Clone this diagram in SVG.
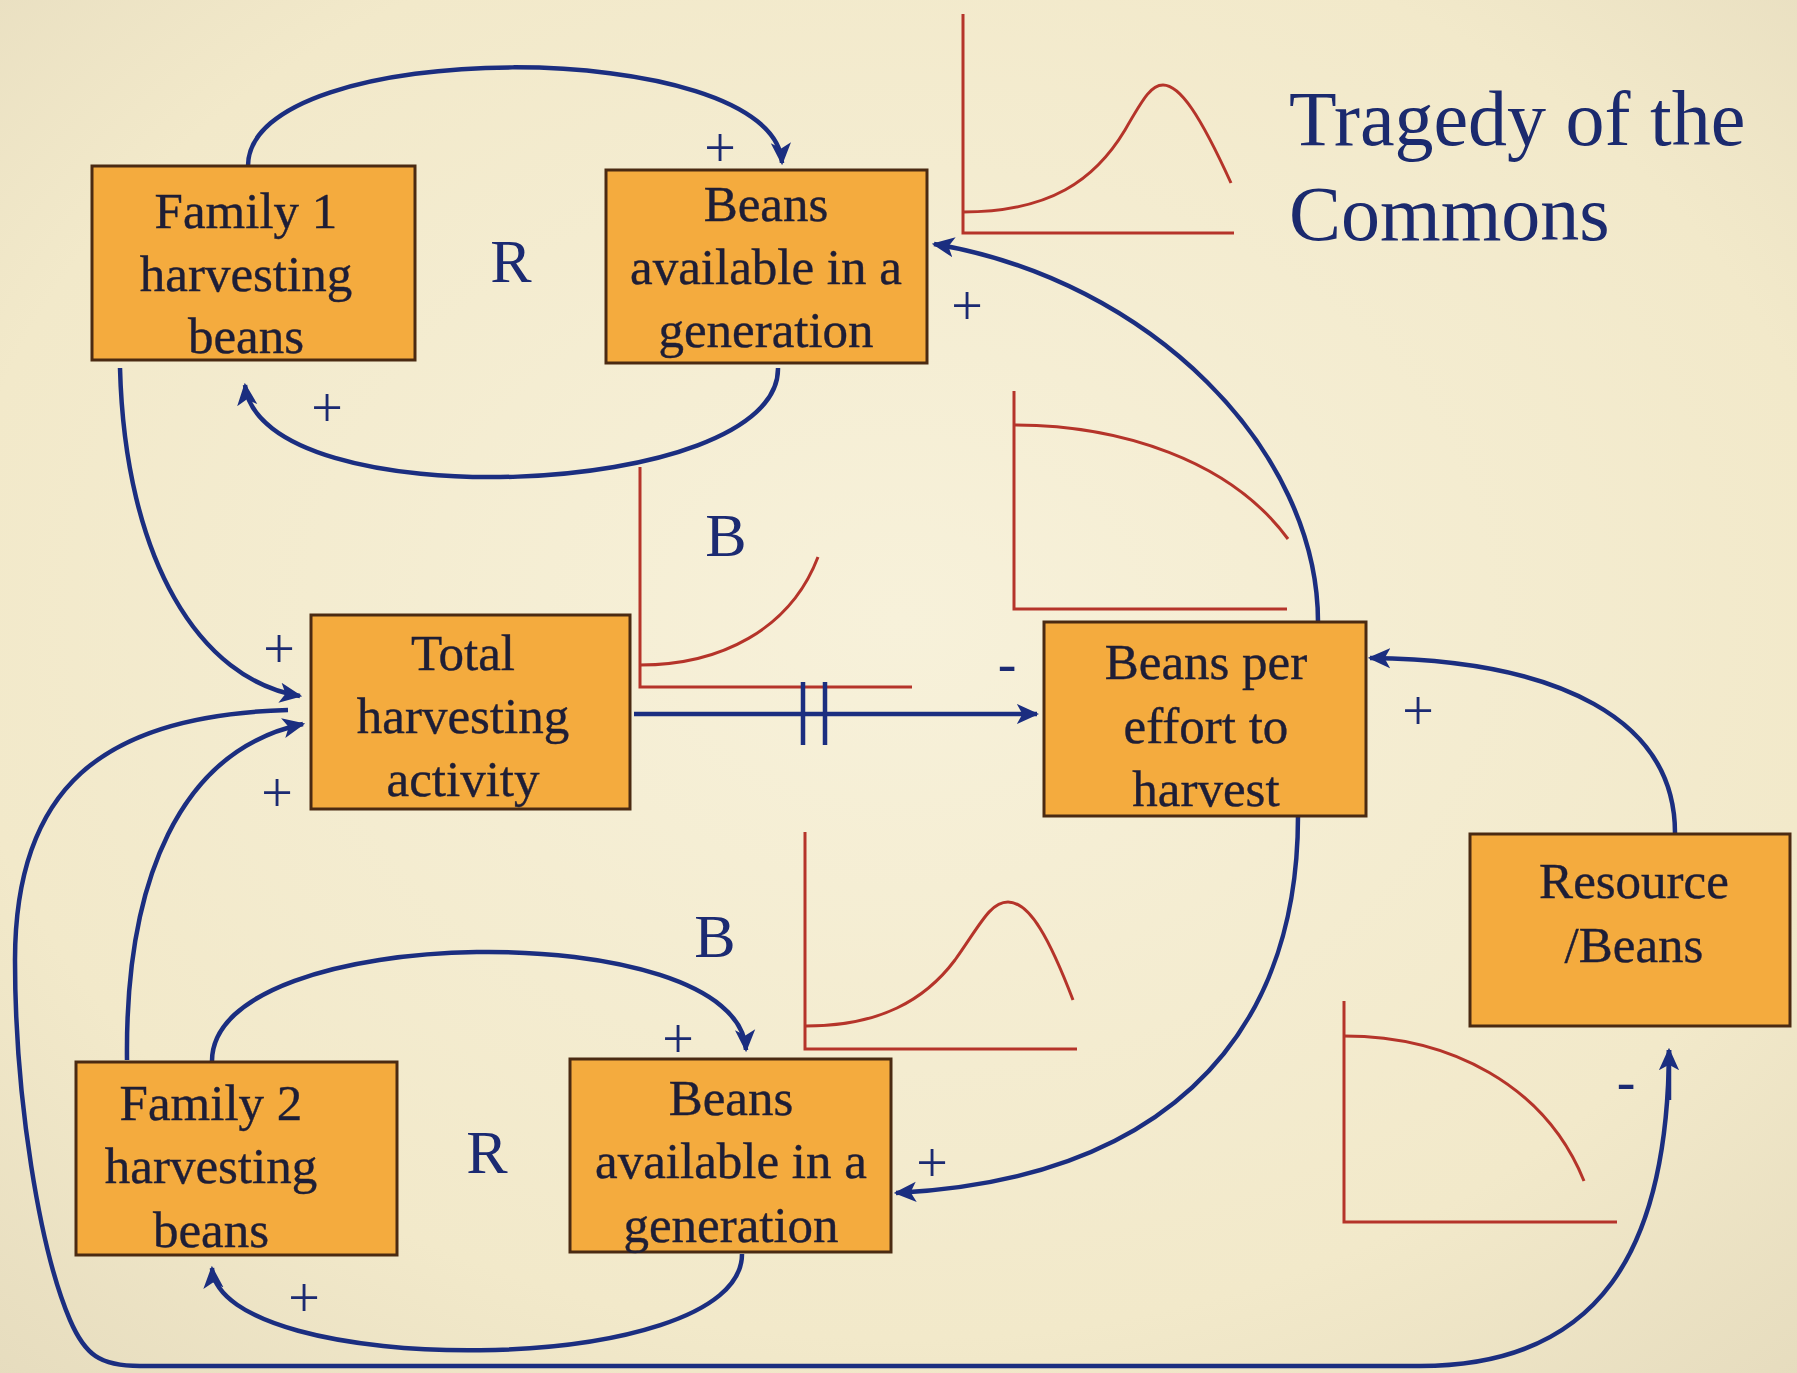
<svg xmlns="http://www.w3.org/2000/svg" width="1797" height="1373" viewBox="0 0 1797 1373">
<defs>
<radialGradient id="bg" cx="0.5" cy="0.45" r="0.75">
<stop offset="0" stop-color="#F7F1DA"/>
<stop offset="0.7" stop-color="#F2E9CA"/>
<stop offset="1" stop-color="#E6DCBE"/>
</radialGradient>
<marker id="arr" viewBox="0 0 10 10" refX="9" refY="5" markerWidth="5" markerHeight="5" markerUnits="strokeWidth" orient="auto">
<path d="M0,0.5 L10,5 L0,9.5 L2.5,5 Z" fill="#1B2E80"/>
</marker>
<style>
.box{fill:#F4AB3E;stroke:#4A2A12;stroke-width:3}
.bt{font-family:"Liberation Serif","Times New Roman",serif;font-size:51px;fill:#1E1E36;stroke:#1E1E36;stroke-width:0.4;text-anchor:middle}
.lab{font-family:"Liberation Serif","Times New Roman",serif;fill:#1B2A72;text-anchor:middle}
.big{font-size:62px}
.sg{font-size:56px}
.title{font-family:"Liberation Serif","Times New Roman",serif;font-size:78px;fill:#1B2A6E}
.c{fill:none;stroke:#1B2E80;stroke-width:4.5}
.ca{fill:none;stroke:#1B2E80;stroke-width:4.5;marker-end:url(#arr)}
.g{fill:none;stroke:#B5342A;stroke-width:3}
</style>
</defs>
<rect width="1797" height="1373" fill="url(#bg)"/>

<g id="graphs">
<path class="g" d="M963 14 L963 233 L1234 233"/>
<path class="g" d="M963 212 C1050 212 1095 180 1125 130 C1145 95 1152 85 1163 85 C1180 85 1200 115 1231 183"/>
<path class="g" d="M1014 391 L1014 609 L1287 609"/>
<path class="g" d="M1014 425 C1120 425 1230 460 1288 539"/>
<path class="g" d="M640 467 L640 687 L912 687"/>
<path class="g" d="M640 665 C720 665 790 630 818 557"/>
<path class="g" d="M805 832 L805 1049 L1077 1049"/>
<path class="g" d="M806 1026 C880 1026 925 1000 955 960 C980 925 990 902 1008 902 C1030 902 1050 940 1073 1000"/>
<path class="g" d="M1344 1001 L1344 1222 L1617 1222"/>
<path class="g" d="M1344 1036 C1450 1036 1545 1085 1584 1181"/>
</g>

<g id="connectors">
<path class="ca" d="M248 166 C248 35 775 35 782 163"/>
<path class="ca" d="M778 368 C780 500 260 520 245 385"/>
<path class="ca" d="M120 368 C125 560 200 680 300 696"/>
<path class="ca" d="M127 1060 C125 880 180 750 303 724"/>
<path class="c" d="M288 710 C100 715 15 790 15 960 C15 1100 40 1250 70 1320 C85 1355 100 1366 140 1366 L1420 1366 C1600 1366 1668 1250 1669 1050"/>
<path class="ca" d="M1669 1100 L1669 1050"/>
<path class="ca" d="M634 714 L1037 714"/>
<path class="c" d="M803 682 L803 745 M825 682 L825 745"/>
<path class="ca" d="M1318 622 C1318 450 1150 280 934 244"/>
<path class="ca" d="M1298 816 C1298 1050 1150 1180 896 1193"/>
<path class="ca" d="M1675 833 C1675 720 1560 660 1370 658"/>
<path class="ca" d="M212 1061 C212 920 740 915 746 1050"/>
<path class="ca" d="M742 1254 C742 1380 220 1380 212 1268"/>
</g>

<g id="family1">
<rect class="box" x="92" y="166" width="323" height="194"/>
<text class="bt" x="246" y="228">Family 1</text>
<text class="bt" x="246" y="291">harvesting</text>
<text class="bt" x="246" y="353">beans</text>
</g>
<g id="beans1">
<rect class="box" x="606" y="170" width="321" height="193"/>
<text class="bt" x="766" y="221">Beans</text>
<text class="bt" x="766" y="284">available in a</text>
<text class="bt" x="766" y="347">generation</text>
</g>
<g id="total">
<rect class="box" x="311" y="615" width="319" height="194"/>
<text class="bt" x="463" y="670">Total</text>
<text class="bt" x="463" y="733">harvesting</text>
<text class="bt" x="463" y="796">activity</text>
</g>
<g id="beansper">
<rect class="box" x="1044" y="622" width="322" height="194"/>
<text class="bt" x="1206" y="679">Beans per</text>
<text class="bt" x="1206" y="743">effort to</text>
<text class="bt" x="1206" y="806">harvest</text>
</g>
<g id="resource">
<rect class="box" x="1470" y="834" width="320" height="192"/>
<text class="bt" x="1634" y="898">Resource</text>
<text class="bt" x="1634" y="962">/Beans</text>
</g>
<g id="family2">
<rect class="box" x="76" y="1062" width="321" height="193"/>
<text class="bt" x="211" y="1120">Family 2</text>
<text class="bt" x="211" y="1183">harvesting</text>
<text class="bt" x="211" y="1247">beans</text>
</g>
<g id="beans2">
<rect class="box" x="570" y="1059" width="321" height="193"/>
<text class="bt" x="731" y="1115">Beans</text>
<text class="bt" x="731" y="1178">available in a</text>
<text class="bt" x="731" y="1242">generation</text>
</g>

<g id="labels">
<text class="lab big" x="511" y="282">R</text>
<text class="lab big" x="726" y="556">B</text>
<text class="lab big" x="715" y="957">B</text>
<text class="lab big" x="487" y="1173">R</text>
<text class="lab sg" x="720" y="167">+</text>
<text class="lab sg" x="327" y="427">+</text>
<text class="lab sg" x="967" y="325">+</text>
<text class="lab sg" x="279" y="668">+</text>
<text class="lab sg" x="277" y="812">+</text>
<text class="lab sg" x="1007" y="682">-</text>
<text class="lab sg" x="1418" y="730">+</text>
<text class="lab sg" x="678" y="1058">+</text>
<text class="lab sg" x="932" y="1182">+</text>
<text class="lab sg" x="304" y="1317">+</text>
<text class="lab sg" x="1626" y="1100">-</text>
</g>

<g id="title">
<text class="title" x="1289" y="145">Tragedy of the</text>
<text class="title" x="1289" y="240">Commons</text>
</g>
</svg>
